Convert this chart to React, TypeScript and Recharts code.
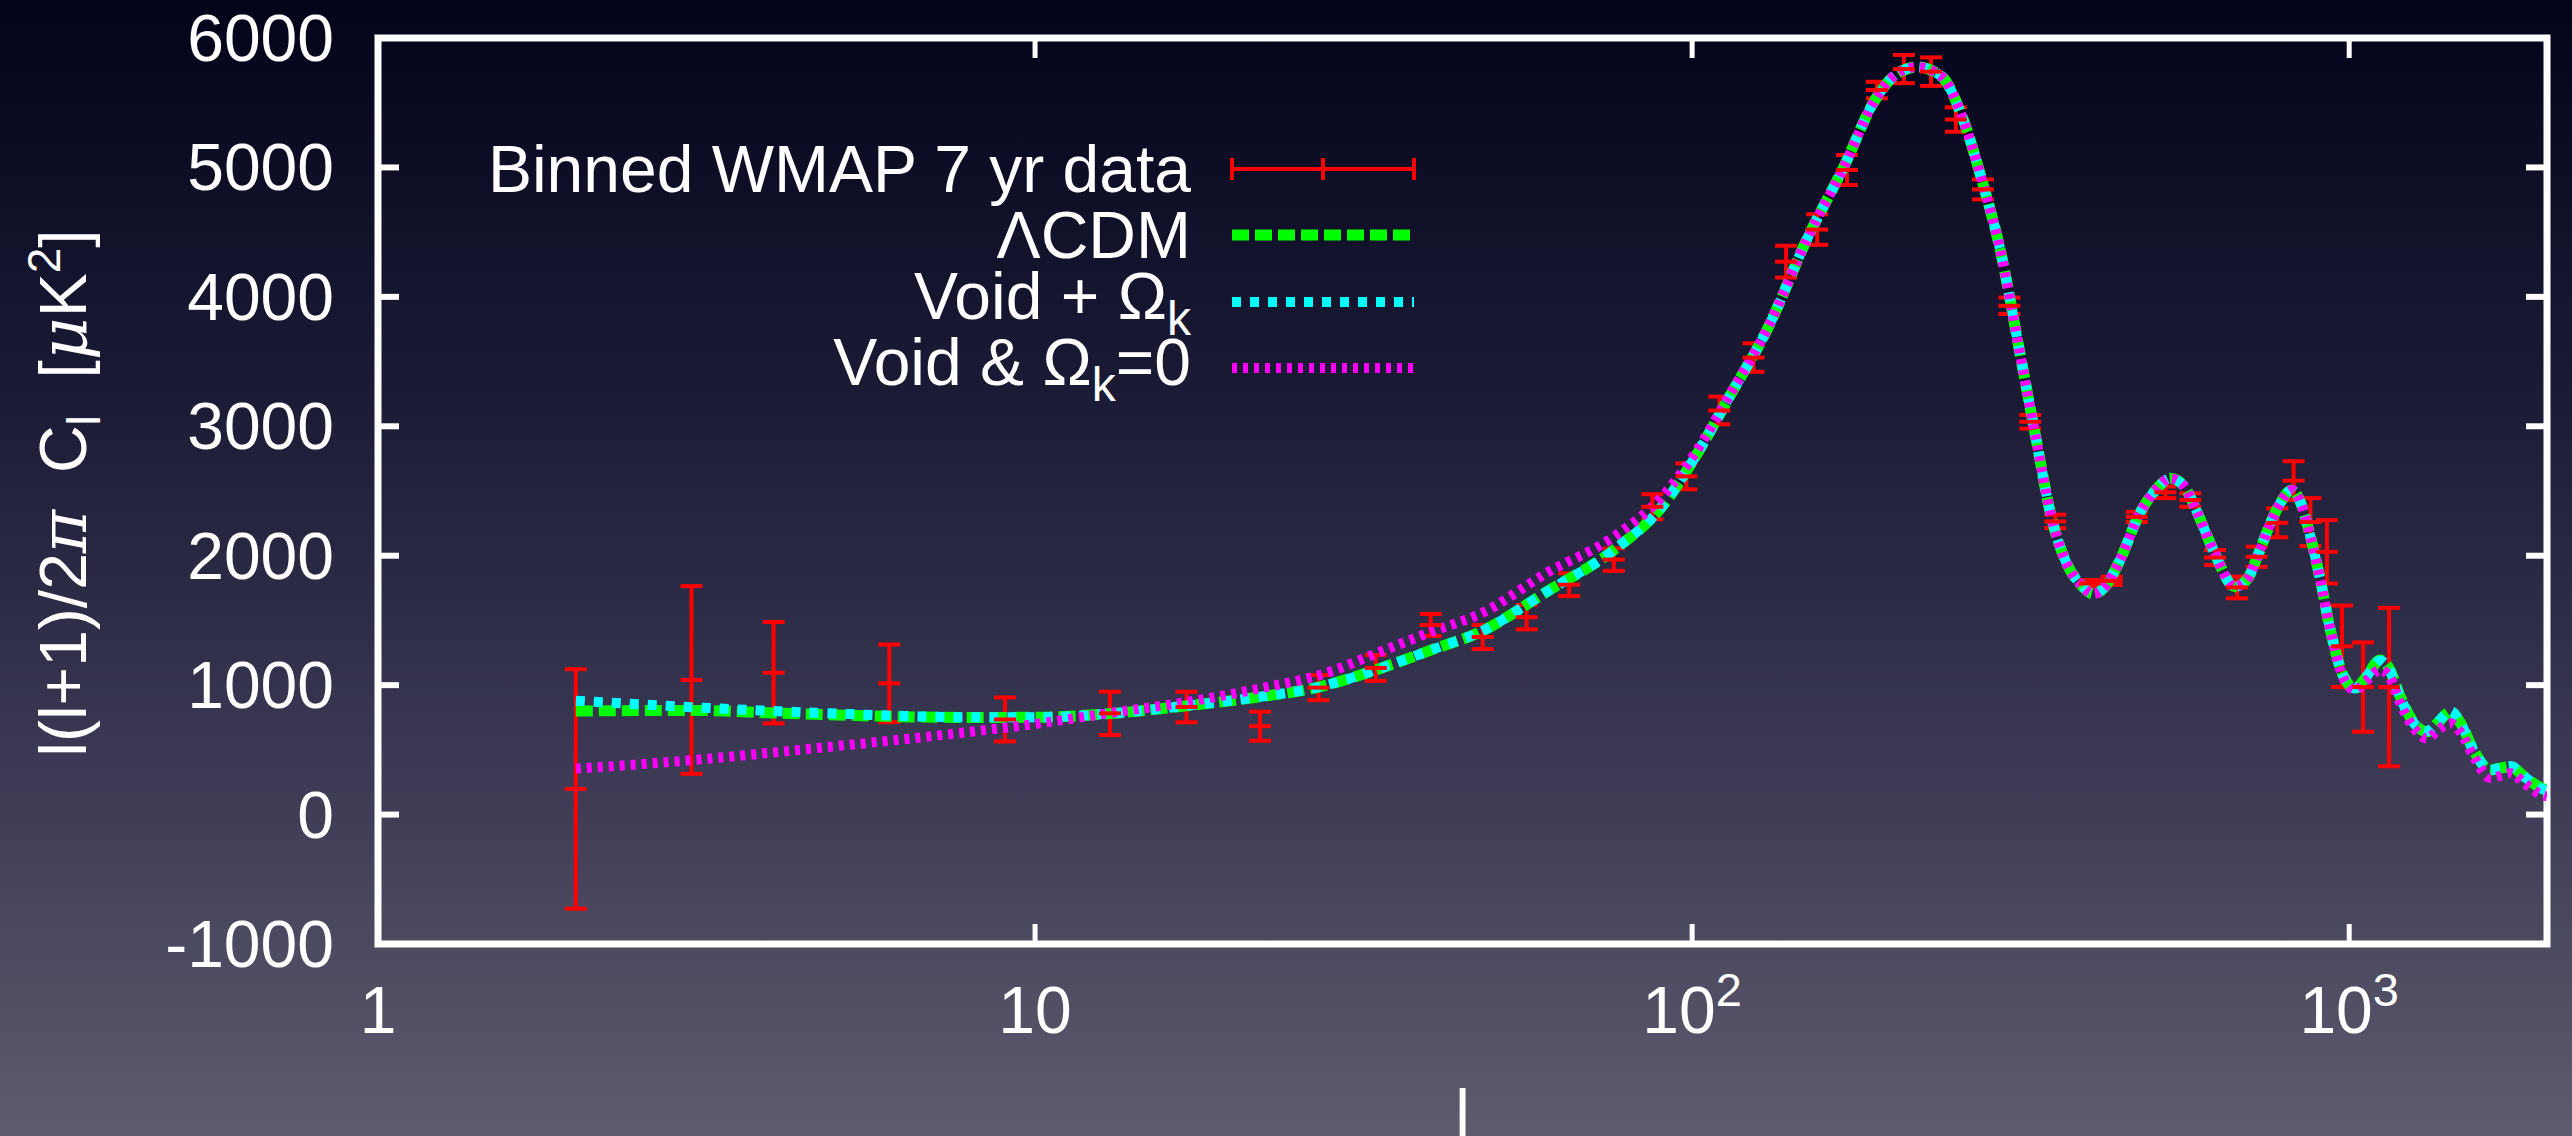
import React from 'react';
import {
  ComposedChart,
  Line,
  Scatter,
  ErrorBar,
  XAxis,
  YAxis,
  ReferenceArea,
} from 'recharts';

// multipole grid for the model curves
const modelL = [
  2, 3, 4, 5, 6, 8, 10, 13, 17, 22, 27, 34, 40, 48, 60, 76, 90, 101, 114, 130,
  150, 170, 190, 205, 220, 240, 257, 276, 295, 316, 334, 352, 371, 390, 408, 425,
  448, 480, 510, 534, 560, 585, 621, 670, 700, 728, 760, 785, 818, 845, 873, 904,
  936, 981, 1021, 1060, 1115, 1150, 1196, 1250, 1313, 1370, 1426, 1480, 1546,
  1640, 1700, 1760, 1850, 1965, 2000,
];

const lcdm = [
  800, 805, 785, 770, 758, 750, 752, 780, 840, 910, 985, 1140, 1270, 1420, 1720,
  2044, 2380, 2760, 3230, 3745, 4460, 5000, 5525, 5725, 5776, 5700, 5406, 4903,
  4342, 3543, 2894, 2302, 1947, 1780, 1705, 1760, 1967, 2328, 2520, 2598, 2540,
  2353, 2044, 1760, 1820, 2018, 2260, 2405, 2508, 2400, 2147, 1812, 1426, 1065,
  975, 1060, 1194, 1130, 911, 720, 640, 720, 795, 700, 499, 344, 360, 370, 290,
  203, 190,
];

const voidOmegaK = [
  880, 830, 800, 780, 765, 752, 752, 780, 840, 910, 985, 1140, 1270, 1420, 1720,
  2044, 2380, 2760, 3230, 3745, 4460, 5000, 5525, 5725, 5776, 5700, 5406, 4903,
  4342, 3543, 2894, 2302, 1947, 1780, 1705, 1760, 1967, 2328, 2520, 2598, 2540,
  2353, 2044, 1760, 1820, 2018, 2260, 2405, 2508, 2400, 2147, 1812, 1426, 1065,
  975, 1060, 1190, 1125, 905, 715, 645, 725, 800, 700, 495, 345, 362, 375, 290,
  200, 185,
];

const voidFlat = [
  355, 420, 480, 530, 570, 640, 700, 785, 870, 975, 1075, 1270, 1410, 1560, 1865,
  2147, 2456, 2790, 3240, 3750, 4460, 5000, 5525, 5725, 5776, 5700, 5406, 4903,
  4342, 3543, 2894, 2302, 1947, 1780, 1705, 1760, 1967, 2328, 2520, 2598, 2540,
  2353, 2044, 1760, 1820, 2018, 2260, 2405, 2508, 2400, 2147, 1812, 1426, 1050,
  960, 1030, 1117, 1070, 860, 680, 588, 660, 705, 630, 450, 282, 300, 320, 240,
  151, 140,
];

// binned WMAP 7 yr points
const wmapL = [
  2, 3, 4, 6, 9, 13, 17, 22, 27, 33, 40, 48, 56, 65, 76, 87, 98, 110, 124, 139,
  155, 172, 191, 210, 231, 252, 277, 304, 327, 357, 403, 435, 475, 525, 573, 625,
  675, 723, 777, 823, 873, 925, 975, 1050, 1150,
];
const wmapCl = [
  198, 1040, 1096, 1014, 735, 782, 831, 683, 981, 1133, 1465, 1372, 1525, 1776,
  1970, 2378, 2613, 3122, 3531, 4272, 4520, 4980, 5598, 5760, 5740, 5370, 4830,
  3931, 3035, 2265, 1786, 1806, 2300, 2490, 2430, 1986, 1755, 1992, 2254, 2580,
  2260, 2030, 1300, 985, 985,
];
const wmapErr = [
  925, 725, 392, 300, 170, 167, 118, 112, 97, 100, 85, 93, 94, 88, 87, 97, 100,
  107, 110, 123, 118, 116, 64, 109, 110, 94, 77, 63, 53, 52, 26, 32, 39, 45, 52,
  58, 84, 78, 112, 150, 185, 245, 315, 345, 612,
];

const xTicks = [1, 10, 100, 1000];
const xTickBase = ['1', '10', '10', '10'];
const xTickExp = ['', '', '2', '3'];
const yTicks = [-1000, 0, 1000, 2000, 3000, 4000, 5000, 6000];

const modelData = modelL.map((l, i) => ({
  l,
  lcdm: lcdm[i],
  voidOk: voidOmegaK[i],
  voidFlat: voidFlat[i],
}));
const wmapData = wmapL.map((l, i) => ({ l, cl: wmapCl[i], err: wmapErr[i] }));

const W = 2572;
const H = 1136;
const PLOT_LEFT = 378;
const PLOT_TOP = 38;
const PLOT_RIGHT = 2547;
const PLOT_BOTTOM = 944;
const FONT = '"Liberation Sans", Arial, Helvetica, sans-serif';
const FS = 66;

const GREEN_DASH = '17 6';
const CYAN_DASH = '9 9';
const MAGENTA_DASH = '5 6';

const XTick = ({ x, y, payload }: any) => {
  const i = xTicks.indexOf(payload.value);
  return (
    <g>
      {i > 0 && <line x1={x} x2={x} y1={y} y2={y - 20} stroke="#fff" strokeWidth={5} />}
      {i > 0 && <line x1={x} x2={x} y1={PLOT_TOP} y2={PLOT_TOP + 20} stroke="#fff" strokeWidth={5} />}
      <text x={x} y={y + 89} textAnchor="middle" fill="#fff" fontSize={FS} fontFamily={FONT}>
        {xTickBase[i]}
        {xTickExp[i] && (
          <tspan dy={-27} fontSize={47}>
            {xTickExp[i]}
          </tspan>
        )}
      </text>
    </g>
  );
};

const YTick = ({ x, y, payload }: any) => (
  <g>
    <line x1={x} x2={x + 21} y1={y} y2={y} stroke="#fff" strokeWidth={6} />
    <line x1={PLOT_RIGHT} x2={PLOT_RIGHT - 21} y1={y} y2={y} stroke="#fff" strokeWidth={6} />
    <text x={x - 44} y={y + 23} textAnchor="end" fill="#fff" fontSize={FS} fontFamily={FONT}>
      {payload.value}
    </text>
  </g>
);

const ErrorTick = (props: any) => (
  <line x1={props.cx - 11} x2={props.cx + 11} y1={props.cy} y2={props.cy} stroke="#ff0000" strokeWidth={4} />
);

const LegendOverlay = () => {
  const textX = 1191;
  const x1 = 1232;
  const x2 = 1414;
  const rows = [169, 235, 302, 368];
  return (
    <svg width={W} height={H} style={{ position: 'absolute', left: 0, top: 0, pointerEvents: 'none' }}>
      <g fill="#fff" fontSize={FS} fontFamily={FONT} textAnchor="end">
        <text x={textX} y={rows[0] + 23}>Binned WMAP 7 yr data</text>
        <text x={textX} y={rows[1] + 23}>ΛCDM</text>
        <text x={textX} y={rows[2] + 17}>
          Void + Ω<tspan dy={16} fontSize={48}>k</tspan>
        </text>
        <text x={textX} y={rows[3] + 17}>
          Void &amp; Ω<tspan dy={16} fontSize={48}>k</tspan>
          <tspan dy={-16}>=0</tspan>
        </text>
      </g>
      <g stroke="#ff0000" strokeWidth={4}>
        <line x1={x1} x2={x2} y1={rows[0]} y2={rows[0]} />
        <line x1={x1} x2={x1} y1={rows[0] - 11} y2={rows[0] + 11} />
        <line x1={(x1 + x2) / 2} x2={(x1 + x2) / 2} y1={rows[0] - 11} y2={rows[0] + 11} />
        <line x1={x2} x2={x2} y1={rows[0] - 11} y2={rows[0] + 11} />
      </g>
      <line x1={x1} x2={x2} y1={rows[1]} y2={rows[1]} stroke="#00ff00" strokeWidth={11} strokeDasharray={GREEN_DASH} />
      <line x1={x1} x2={x2} y1={rows[2]} y2={rows[2]} stroke="#00ffff" strokeWidth={10} strokeDasharray={CYAN_DASH} />
      <line x1={x1} x2={x2} y1={rows[3]} y2={rows[3]} stroke="#ff00ff" strokeWidth={10} strokeDasharray={MAGENTA_DASH} />
      <text
        x={86}
        y={493}
        transform="rotate(-90, 86, 493)"
        textAnchor="middle"
        fill="#fff"
        fontSize={FS}
        fontFamily={FONT}
        style={{ whiteSpace: 'pre' }}
      >
        l(l+1)/2<tspan fontFamily='"DejaVu Serif", serif' fontStyle="italic">π</tspan>  C
        <tspan dy={14} fontSize={46}>l</tspan>
        <tspan dy={-14}>  [</tspan>
        <tspan fontFamily='"DejaVu Serif", serif' fontStyle="italic">μ</tspan>K
        <tspan dy={-26} fontSize={46}>2</tspan>
        <tspan dy={26}>]</tspan>
      </text>
      <text x={(PLOT_LEFT + PLOT_RIGHT) / 2} y={1136} textAnchor="middle" fill="#fff" fontSize={FS} fontFamily={FONT}>
        l
      </text>
    </svg>
  );
};

export default function App() {
  return (
    <div
      style={{
        position: 'absolute',
        left: 0,
        top: 0,
        width: W,
        height: H,
        overflow: 'hidden',
        background: 'linear-gradient(to bottom, #03041a 0%, #1b1b36 35%, #3c3a54 68%, #5e5b6e 100%)',
      }}
    >
      <ComposedChart
        width={W}
        height={H}
        margin={{ top: PLOT_TOP, right: W - PLOT_RIGHT, left: 0, bottom: 0 }}
      >
        <XAxis
          dataKey="l"
          type="number"
          scale="log"
          domain={[1, 2000]}
          ticks={xTicks}
          interval={0}
          allowDataOverflow
          height={H - PLOT_BOTTOM}
          tickSize={0}
          tickMargin={0}
          axisLine={false}
          tickLine={false}
          tick={<XTick />}
        />
        <YAxis
          type="number"
          domain={[-1000, 6000]}
          ticks={yTicks}
          interval={0}
          allowDataOverflow
          width={PLOT_LEFT}
          tickSize={0}
          tickMargin={0}
          axisLine={false}
          tickLine={false}
          tick={<YTick />}
        />
        <Scatter data={wmapData} dataKey="cl" shape={<ErrorTick />} isAnimationActive={false}>
          <ErrorBar dataKey="err" direction="y" width={11} stroke="#ff0000" strokeWidth={4} isAnimationActive={false} />
        </Scatter>
        <Line
          data={modelData}
          dataKey="lcdm"
          type="monotone"
          stroke="#00ff00"
          strokeWidth={11}
          strokeDasharray={GREEN_DASH}
          dot={false}
          isAnimationActive={false}
        />
        <Line
          data={modelData}
          dataKey="voidOk"
          type="monotone"
          stroke="#00ffff"
          strokeWidth={10}
          strokeDasharray={CYAN_DASH}
          dot={false}
          isAnimationActive={false}
        />
        <Line
          data={modelData}
          dataKey="voidFlat"
          type="monotone"
          stroke="#ff00ff"
          strokeWidth={10}
          strokeDasharray={MAGENTA_DASH}
          dot={false}
          isAnimationActive={false}
        />
        <ReferenceArea x1={1} x2={2000} y1={-1000} y2={6000} fill="none" stroke="#ffffff" strokeWidth={7} />
      </ComposedChart>
      <LegendOverlay />
    </div>
  );
}
